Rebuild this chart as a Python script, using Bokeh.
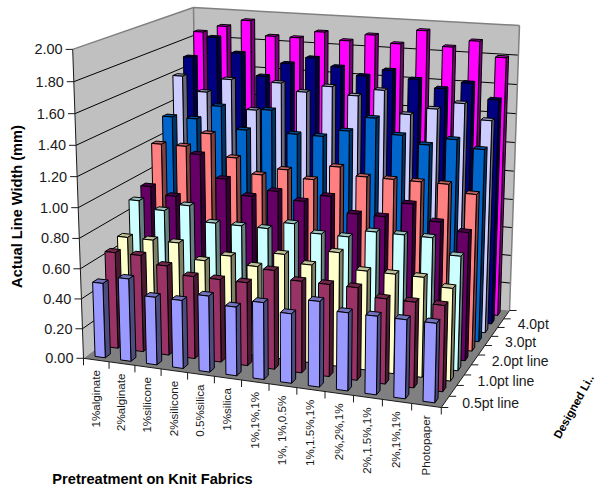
import math
import numpy as np
from bokeh.core.properties import value
from bokeh.embed import file_html
from bokeh.models import Range1d
from bokeh.plotting import figure
from bokeh.resources import INLINE

categories = ["1%alginate", "2%alginate", "1%silicone", "2%silicone", "0.5%silica", "1%silica",
              "1%,1%,1%", "1%, 1%,0.5%", "1%,1.5%,1%", "2%,2%,1%", "2%,1.5%,1%", "2%,1%,1%", "Photopaper"]
depth_labels = ["0.5pt line", "1.0pt line", "2.0pt line", "3.0pt", "4.0pt"]
value_ticks = ["0.00", "0.20", "0.40", "0.60", "0.80", "1.00", "1.20", "1.40", "1.60", "1.80", "2.00"]

series_1 = [0.50, 0.55, 0.45, 0.45, 0.50, 0.45, 0.50, 0.45, 0.55, 0.50, 0.50, 0.50, 0.50]
series_2 = [0.65, 0.65, 0.60, 0.55, 0.55, 0.55, 0.65, 0.60, 0.60, 0.60, 0.55, 0.55, 0.55]
series_3 = [0.70, 0.70, 0.70, 0.60, 0.65, 0.60, 0.70, 0.65, 0.75, 0.65, 0.65, 0.65, 0.60]
series_4 = [0.90, 0.85, 0.90, 0.80, 0.80, 0.80, 0.85, 0.80, 0.80, 0.85, 0.85, 0.85, 0.75]
series_5 = [0.95, 0.90, 1.20, 1.05, 0.95, 1.00, 0.95, 1.00, 0.90, 0.90, 1.00, 0.90, 0.85]
series_6 = [1.20, 1.20, 1.30, 1.15, 1.05, 1.10, 1.05, 1.15, 1.10, 1.10, 1.10, 1.10, 1.05]
series_7 = [1.35, 1.35, 1.45, 1.30, 1.45, 1.30, 1.30, 1.35, 1.45, 1.35, 1.30, 1.35, 1.30]
series_8 = [1.60, 1.50, 1.60, 1.40, 1.60, 1.55, 1.60, 1.55, 1.60, 1.45, 1.50, 1.55, 1.45]
series_9 = [1.70, 1.85, 1.75, 1.60, 1.70, 1.75, 1.70, 1.65, 1.70, 1.65, 1.60, 1.65, 1.55]
series_10 = [1.85, 1.90, 1.95, 1.85, 1.85, 1.90, 1.85, 1.90, 1.85, 1.95, 1.85, 1.90, 1.80]

all_series = [series_1, series_2, series_3, series_4, series_5,
              series_6, series_7, series_8, series_9, series_10]
series_colors = ["#9999FF", "#993366", "#FFFFCC", "#CCFFFF", "#660066",
                 "#FF8080", "#0066CC", "#CCCCFF", "#000080", "#FF00FF"]

# Camera: box corners (x, height, depth, each 0..1) paired with where they land on the page.
camera_points = [((0, 0, 0), (83, 358)), ((1, 0, 0), (441, 407)), ((1, 0, 1), (509, 310)),
                 ((0, 1, 0), (72, 49)), ((0, 1, 1), (193, 7)), ((1, 1, 1), (519, 25)),
                 ((0, 0.5, 0), (78, 207)), ((8 / 13, 0, 0), (296, 387))]
rows = []
for (cx, cy, cz), (u, v) in camera_points:
    rows.append([cx, cy, cz, 1, 0, 0, 0, 0, -u * cx, -u * cy, -u * cz, -u])
    rows.append([0, 0, 0, 0, cx, cy, cz, 1, -v * cx, -v * cy, -v * cz, -v])
camera = np.linalg.svd(np.array(rows, float))[2][-1].reshape(3, 4)

N_CAT, N_SER, Y_MAX = len(categories), len(all_series), 2.0
BAR = 0.4
INSET = (1 - BAR) / 2


def project(cat, val, ser):
    """Map category position, value and series position to page coordinates."""
    h = camera @ np.array([cat / N_CAT, val / Y_MAX, ser / N_SER, 1.0])
    return float(h[0] / h[2]), float(h[1] / h[2])


def shade(color, factor):
    r, g, b = (int(color[k:k + 2], 16) for k in (1, 3, 5))
    return "#%02X%02X%02X" % (int(r * factor), int(g * factor), int(b * factor))


def polygon(corners):
    pts = [project(*c) for c in corners]
    return [q[0] for q in pts], [q[1] for q in pts]


p = figure(width=596, height=488, x_range=Range1d(0, 596), y_range=Range1d(488, 0),
           output_backend="svg", toolbar_location=None, min_border=0, outline_line_color=None)
p.axis.visible = False
p.grid.visible = False

# Walls and floor
shell = [
    ([(0, 0, 0), (0, Y_MAX, 0), (0, Y_MAX, N_SER), (0, 0, N_SER)], "#C0C0C0"),
    ([(0, 0, N_SER), (0, Y_MAX, N_SER), (N_CAT, Y_MAX, N_SER), (N_CAT, 0, N_SER)], "#C0C0C0"),
    ([(0, 0, 0), (N_CAT, 0, 0), (N_CAT, 0, N_SER), (0, 0, N_SER)], "#808080"),
]
for corners, color in shell:
    xs, ys = polygon(corners)
    p.patch(xs, ys, fill_color=color, line_color=None)

# Gridlines run across the left wall and on along the back wall
for k in range(1, len(value_ticks)):
    level = Y_MAX * k / (len(value_ticks) - 1)
    xs, ys = polygon([(0, level, 0), (0, level, N_SER), (N_CAT, level, N_SER)])
    last = k == len(value_ticks) - 1
    p.line(xs, ys, line_color="#808080" if last else "#000000", line_width=1.5 if last else 1)

# Outer edges of the walls
for corners in ([(0, 0, N_SER), (0, Y_MAX, N_SER)], [(N_CAT, 0, N_SER), (N_CAT, Y_MAX, N_SER)]):
    xs, ys = polygon(corners)
    p.line(xs, ys, line_color="#808080", line_width=1.5)

# Bars, painted from the back row forward and from left to right
bar_xs, bar_ys, bar_fill = [], [], []
for s in range(N_SER - 1, -1, -1):
    color = series_colors[s]
    top_color, side_color = shade(color, 0.75), shade(color, 0.5)
    for i, val in enumerate(all_series[s]):
        x0, x1 = i + INSET, i + INSET + BAR
        z0, z1 = s + INSET, s + INSET + BAR
        faces = [
            ([(x0, val, z0), (x1, val, z0), (x1, val, z1), (x0, val, z1)], top_color),
            ([(x1, 0, z0), (x1, val, z0), (x1, val, z1), (x1, 0, z1)], side_color),
            ([(x0, 0, z0), (x0, val, z0), (x1, val, z0), (x1, 0, z0)], color),
        ]
        for corners, fill in faces:
            xs, ys = polygon(corners)
            bar_xs.append(xs)
            bar_ys.append(ys)
            bar_fill.append(fill)
p.patches(bar_xs, bar_ys, fill_color=bar_fill, line_color="#000000", line_width=1, line_join="round")

# Axis lines and tick marks
AXIS = "#1A1A1A"
edge_xs, edge_ys = polygon([(0, Y_MAX, 0), (0, 0, 0), (N_CAT, 0, 0), (N_CAT, 0, N_SER)])
p.line(edge_xs, edge_ys, line_color=AXIS, line_width=1)
seg = {"x0": [], "y0": [], "x1": [], "y1": []}


def tick(a, b):
    seg["x0"].append(a[0])
    seg["y0"].append(a[1])
    seg["x1"].append(b[0])
    seg["y1"].append(b[1])


TICK = 7
for k in range(len(value_ticks)):
    a = project(0, Y_MAX * k / (len(value_ticks) - 1), 0)
    tick(a, (a[0] - TICK, a[1]))
for i in range(N_CAT + 1):
    a = project(i, 0, 0)
    tick(a, (a[0], a[1] + TICK))
for s in range(N_SER + 1):
    a = project(N_CAT, 0, s)
    tick(a, (a[0] + TICK, a[1]))
p.segment(seg["x0"], seg["y0"], seg["x1"], seg["y1"], line_color=AXIS, line_width=1)

FONT = value("Liberation Sans")
INK = "#1A1A1A"

# Value labels to the left of the wall
tx, ty = [], []
for k in range(len(value_ticks)):
    a = project(0, Y_MAX * k / (len(value_ticks) - 1), 0)
    tx.append(a[0] - TICK - 3)
    ty.append(a[1])
p.text(tx, ty, text=value_ticks, text_font=FONT, text_font_size="14.5px", text_color=INK,
       text_align="right", text_baseline="middle")

# Category labels, rotated and hanging from the front edge
tx, ty = [], []
for i in range(N_CAT):
    a = project(i + 0.5, 0, 0)
    tx.append(a[0] - 1)
    ty.append(a[1] + 10)
p.text(tx, ty, text=categories, text_font=FONT, text_font_size="11.6px", text_color=INK,
       angle=math.pi / 2, text_align="right", text_baseline="middle")

# Depth labels on every other row
tx, ty = [], []
for j in range(len(depth_labels)):
    a = project(N_CAT, 0, 2 * j + 0.5)
    tx.append(a[0] + 17)
    ty.append(a[1] + 1)
p.text(tx, ty, text=depth_labels, text_font=FONT, text_font_size="14px", text_color=INK,
       text_align="left", text_baseline="middle")

# Axis titles
TITLE = dict(text_font=FONT, text_font_size="14.6px", text_font_style="bold", text_color="#000000")
p.text([16], [206], text=["Actual Line Width (mm)"], angle=math.pi / 2,
       text_align="center", text_baseline="middle", **TITLE)
p.text([152], [478], text=["Pretreatment on Knit Fabrics"],
       text_align="center", text_baseline="middle", **TITLE)
p.text([556], [437], text=["Designed Li.."], angle=math.radians(61),
       text_align="left", text_baseline="middle", text_font=FONT, text_font_size="11.4px",
       text_font_style="bold", text_color="#000000")

open("out.html", "w").write(file_html(p, INLINE))
